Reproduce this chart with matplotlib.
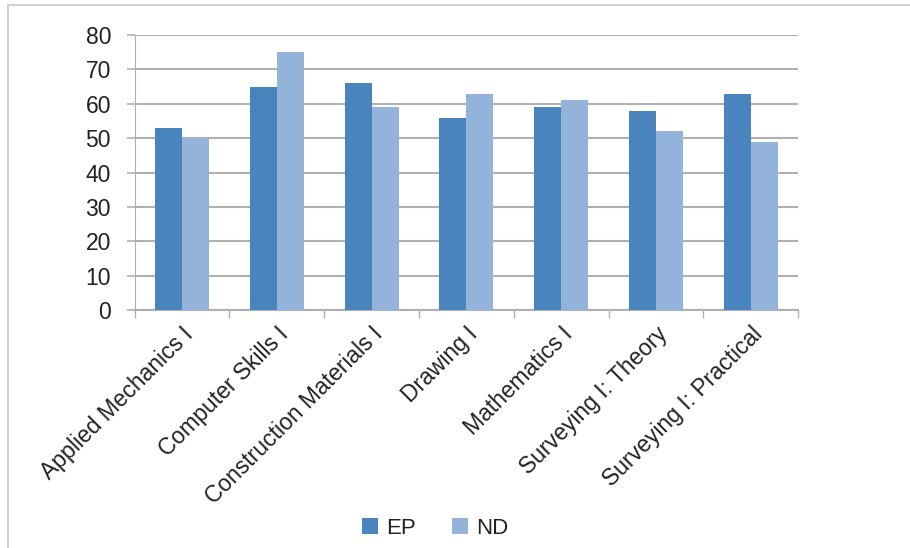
import matplotlib
matplotlib.use("Agg")
import matplotlib.pyplot as plt
import numpy as np
from matplotlib.patches import Rectangle

plt.rcParams['font.family'] = ['Liberation Sans', 'DejaVu Sans']

courses = ["Applied Mechanics I", "Computer Skills I", "Construction Materials I",
           "Drawing I", "Mathematics I", "Surveying I: Theory", "Surveying I: Practical"]
ep_scores = [53, 65, 66, 56, 59, 58, 63]
nd_scores = [50, 75, 59, 63, 61, 52, 49]
y_ticks = [0, 10, 20, 30, 40, 50, 60, 70, 80]

ep_color = "#4A84BF"
nd_color = "#93B3DA"
grid_color = "#B0B0B0"

fig = plt.figure(figsize=(9.10, 5.48), dpi=100)
ax = fig.add_axes([0.148, 0.434, 0.729, 0.502])

x = np.arange(len(courses))
w = 0.285
ax.bar(x - w / 2, ep_scores, width=w, color=ep_color, label="EP", zorder=3)
ax.bar(x + w / 2, nd_scores, width=w, color=nd_color, label="ND", zorder=3)

ax.set_xlim(-0.5, len(courses) - 0.5)
ax.set_ylim(0, 80)
ax.set_yticks(y_ticks)
ax.tick_params(axis='y', labelsize=16.5, length=6, color=grid_color, width=1.2, pad=11,
               labelcolor="#222222")
ax.yaxis.grid(True, color=grid_color, linewidth=1.5, zorder=0)

ax.set_xticks(np.arange(len(courses) + 1) - 0.5)
ax.set_xticklabels([])
ax.tick_params(axis='x', length=6, color=grid_color, width=1.0)
ax.set_xticks(x, minor=True)
ax.set_xticklabels(courses, minor=True, rotation=45, ha='right', va='top',
                   rotation_mode='anchor', fontsize=16.5, color="#222222")
ax.tick_params(axis='x', which='minor', length=0, pad=9)

for side in ('top', 'right'):
    ax.spines[side].set_visible(False)
ax.spines['left'].set_color(grid_color)
ax.spines['bottom'].set_color(grid_color)
ax.spines['bottom'].set_linewidth(1.5)

leg = fig.legend(loc='lower center', bbox_to_anchor=(0.478, -0.02), ncol=2, frameon=False,
                 fontsize=16, handlelength=0.75, handleheight=0.75, columnspacing=1.6,
                 handletextpad=0.35, labelcolor="#222222")

fig.patches.append(Rectangle((0.009, -0.01), 1.2, 1.0, transform=fig.transFigure,
                             fill=False, edgecolor="#C8C8C8", linewidth=1.2))

fig.savefig("out.png", dpi=100)
